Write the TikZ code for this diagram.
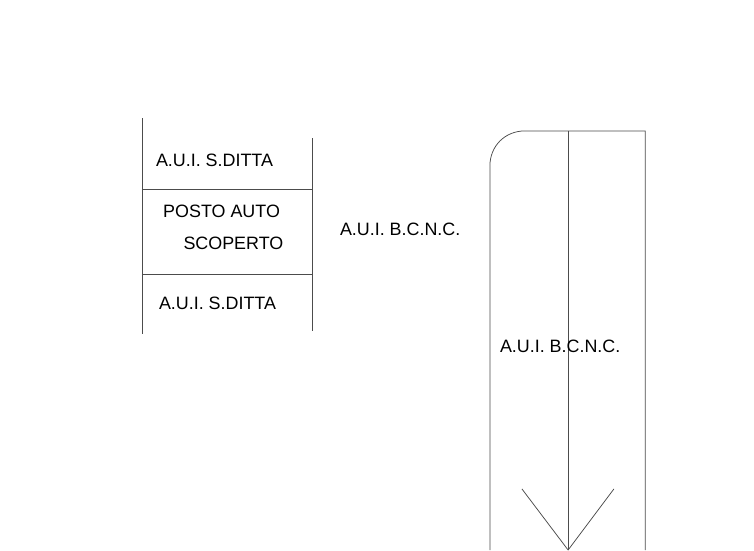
\documentclass[tikz,border=0pt]{standalone}
\usepackage{fontspec}
\setmainfont{Liberation Sans}
\begin{document}
\begin{tikzpicture}[x=1pt,y=-1pt,
  ln/.style={draw=black!70,line width=0.75pt},
  lbl/.style={anchor=base west,inner sep=0pt,outer sep=0pt,font=\fontsize{17.9}{20}\selectfont,text=black}]
\useasboundingbox (0,0) rectangle (754,550);
\fill[white] (0,0) rectangle (754,550);
\draw[ln] (141.9,118) -- (141.9,334);
\draw[ln] (312.8,138) -- (312.8,331);
\draw[ln] (141.9,188.9) -- (312.8,188.9);
\draw[ln] (141.9,273.9) -- (312.8,273.9);
\draw[ln] (489.9,550) -- (489.9,166) .. controls (489.9,146) and (505,130.9) .. (525,130.9) -- (645.2,130.9) -- (645.2,550);
\draw[ln] (568.1,130.9) -- (568.1,550);
\coordinate (tip) at (568.1,550);
\draw[ln] (521.9,488.9) -- (tip) -- (613.9,488.9);
\node[lbl] (a) at (156,166) {A.U.I. S.DITTA};
\node[lbl] (b) at (163.2,217) {POSTO AUTO};
\node[lbl] (c) at (183.5,249) {SCOPERTO};
\node[lbl] (d) at (159,309) {A.U.I. S.DITTA};
\node[lbl] (e) at (340,235) {A.U.I. B.C.N.C.};
\node[lbl] (f) at (500,352) {A.U.I. B.C.N.C.};
\end{tikzpicture}
\end{document}
